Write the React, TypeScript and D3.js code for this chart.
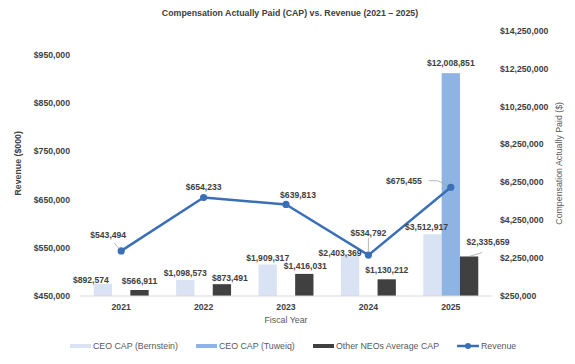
import React from 'react';
import * as d3 from 'd3';

// chart data
const years = ['2021', '2022', '2023', '2024', '2025'];
const ceoBernstein = [892574, 1098573, 1909317, 2403369, 3512917];
const ceoTuweiq: (number | null)[] = [null, null, null, null, 12008851];
const otherNeos = [566911, 873491, 1416031, 1130212, 2335659];
const revenue = [543494, 654233, 639813, 534792, 675455];

const leftTicks = [450000, 550000, 650000, 750000, 850000, 950000];
const rightTicks = [250000, 2250000, 4250000, 6250000, 8250000, 10250000, 12250000, 14250000];

const seriesNames = ['CEO CAP (Bernstein)', 'CEO CAP (Tuweiq)', 'Other NEOs Average CAP', 'Revenue'];
const barColors = ['#dae3f3', '#8eb4e3', '#404040'];
const lineColor = '#3a6fb7';

// label nudges (px) per series, per year
const bernsteinOffsets = [[-12, -4], [0, -6.5], [0, -6.5], [-10, -2], [-6, -7]];
const tuweiqOffsets = [[0, 0], [0, 0], [0, 0], [0, 0], [0, -10]];
const otherOffsets = [[0, -9], [8, -6], [1, -8], [0, -9], [19, -14]];
const revenueOffsets = [[-13, -16], [0, -10], [12, -9.5], [0, -22], [-47, -6.5]];

const W = 575;
const H = 364;
const left = 80;
const right = 492;
const top = 30.7;
const bottom = 296;
const font = '"Liberation Sans", Arial, sans-serif';

const fmt = (v: number) => '$' + d3.format(',')(v);

export default function App() {
  const x = d3.scaleBand<string>().domain(years).range([left, right]).padding(0);
  const bw = x.bandwidth();
  const barW = bw / 4.5;
  const groupStart = (bw - barW * 3) / 2;

  const yL = d3.scaleLinear().domain([450000, 1000000]).range([bottom, top]);
  const yR = d3.scaleLinear().domain([250000, 14250000]).range([bottom, top]);

  const barX = (i: number, s: number) => (x(years[i]) as number) + groupStart + barW * s;
  const cx = (i: number) => (x(years[i]) as number) + bw / 2;

  const barSeries = [ceoBernstein, ceoTuweiq, otherNeos];
  const barOffsets = [bernsteinOffsets, tuweiqOffsets, otherOffsets];

  const line = d3
    .line<number>()
    .x((_, i) => cx(i))
    .y((d) => yL(d));

  const labelStyle = { fontFamily: font, fontSize: 8.6, fontWeight: 700, fill: '#404040' } as const;
  const axisStyle = { fontFamily: font, fontSize: 8.7, fontWeight: 700, fill: '#404040' } as const;

  const legendItems = [
    { x: 70, tx: 93 },
    { x: 196, tx: 219 },
    { x: 313, tx: 336 },
    { x: 457, tx: 481 },
  ];

  return (
    <svg width={W} height={H} style={{ position: 'absolute', left: 0, top: 0, background: '#fff' }}>
      <text x={290} y={13} textAnchor="middle" dominantBaseline="central"
        style={{ fontFamily: font, fontSize: 8.8, fontWeight: 700, fill: '#404040' }}>
        Compensation Actually Paid (CAP) vs. Revenue (2021 – 2025)
      </text>

      {/* left axis */}
      {leftTicks.map((t) => (
        <text key={t} x={70} y={yL(t)} textAnchor="end" dominantBaseline="central" style={axisStyle}>
          {fmt(t)}
        </text>
      ))}
      <text transform={`translate(18,${(top + bottom) / 2}) rotate(-90)`} textAnchor="middle" dominantBaseline="central"
        style={{ fontFamily: font, fontSize: 8.8, fontWeight: 700, fill: '#404040' }}>
        Revenue ($000)
      </text>

      {/* right axis */}
      {rightTicks.map((t) => (
        <text key={t} x={500} y={yR(t)} textAnchor="start" dominantBaseline="central" style={axisStyle}>
          {fmt(t)}
        </text>
      ))}
      <text transform={`translate(559,${(top + bottom) / 2}) rotate(-90)`} textAnchor="middle" dominantBaseline="central"
        style={{ fontFamily: font, fontSize: 8.8, fill: '#595959' }}>
        Compensation Actually Paid ($)
      </text>

      {/* bars */}
      {barSeries.map((ser, s) =>
        ser.map((v, i) =>
          v == null ? null : (
            <rect key={`b${s}-${i}`} x={barX(i, s)} y={yR(v)} width={barW} height={bottom - yR(v)} fill={barColors[s]} />
          )
        )
      )}

      {/* category axis */}
      <line x1={left} x2={right} y1={bottom} y2={bottom} stroke="#d9d9d9" strokeWidth={1} />
      {years.map((yr) => (
        <text key={yr} x={(x(yr) as number) + bw / 2} y={307} textAnchor="middle" dominantBaseline="central" style={axisStyle}>
          {yr}
        </text>
      ))}
      <text x={286} y={320} textAnchor="middle" dominantBaseline="central"
        style={{ fontFamily: font, fontSize: 8.8, fill: '#595959' }}>
        Fiscal Year
      </text>

      {/* revenue line */}
      <path d={line(revenue) || ''} fill="none" stroke={lineColor} strokeWidth={2.5} strokeLinejoin="round" />
      {revenue.map((v, i) => (
        <circle key={`p${i}`} cx={cx(i)} cy={yL(v)} r={3.6} fill={lineColor} />
      ))}

      {/* leader lines */}
      <g stroke="#a6a6a6" strokeWidth={0.8} fill="none">
        <polyline points={`${cx(0) - 7},${yL(revenue[0]) - 8} ${cx(0) - 2},${yL(revenue[0]) - 2}`} />
        <polyline points={`${cx(3)},${yL(revenue[3]) - 17} ${cx(3)},${yL(revenue[3]) - 3}`} />
        <polyline points={`${cx(4) - 22},${yL(revenue[4]) - 6.5} ${cx(4) - 13},${yL(revenue[4]) - 6.5} ${cx(4) - 4},${yL(revenue[4]) - 2}`} />
        <polyline points={`${barX(4, 2) + barW / 2},${yR(otherNeos[4])} ${barX(4, 2) + barW / 2 + 13},${yR(otherNeos[4]) - 4}`} />
      </g>

      {/* bar labels */}
      {barSeries.map((ser, s) =>
        ser.map((v, i) =>
          v == null ? null : (
            <text key={`l${s}-${i}`} x={barX(i, s) + barW / 2 + barOffsets[s][i][0]} y={yR(v) + barOffsets[s][i][1]}
              textAnchor="middle" dominantBaseline="central" style={labelStyle}>
              {fmt(v)}
            </text>
          )
        )
      )}

      {/* revenue labels */}
      {revenue.map((v, i) => (
        <text key={`r${i}`} x={cx(i) + revenueOffsets[i][0]} y={yL(v) + revenueOffsets[i][1]}
          textAnchor="middle" dominantBaseline="central" style={labelStyle}>
          {fmt(v)}
        </text>
      ))}

      {/* legend */}
      {legendItems.map((it, k) => (
        <g key={`lg${k}`}>
          {k < 3 ? (
            <rect x={it.x} y={344} width={21} height={4} fill={barColors[k]} />
          ) : (
            <g>
              <line x1={it.x} x2={it.x + 22} y1={346} y2={346} stroke={lineColor} strokeWidth={2.5} />
              <circle cx={it.x + 11} cy={346} r={3} fill={lineColor} />
            </g>
          )}
          <text x={it.tx} y={346} dominantBaseline="central" style={{ fontFamily: font, fontSize: 8.8, fill: '#595959' }}>
            {seriesNames[k]}
          </text>
        </g>
      ))}
    </svg>
  );
}
